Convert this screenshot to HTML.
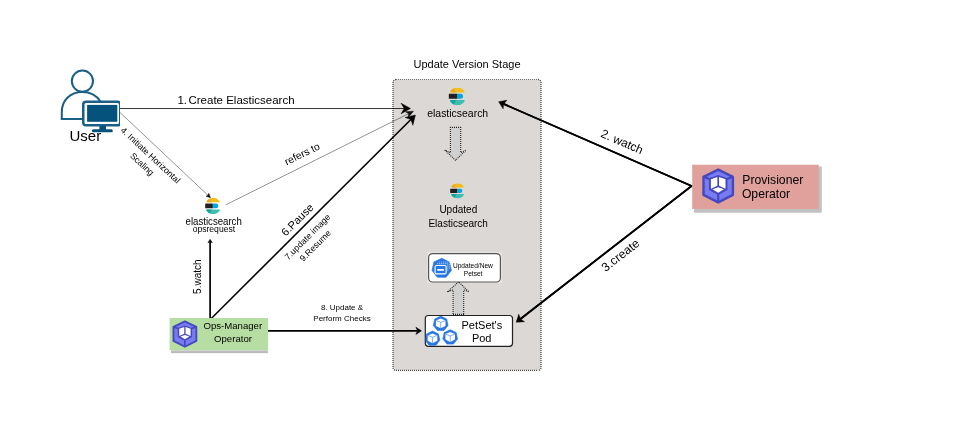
<!DOCTYPE html>
<html><head><meta charset="utf-8">
<style>
html,body{margin:0;padding:0;background:#fff;}
body{width:962px;height:423px;overflow:hidden;position:relative;font-family:"Liberation Sans",sans-serif;}
svg{position:absolute;left:0;top:0;will-change:transform;}
text{font-family:"Liberation Sans",sans-serif;fill:#000;}
</style></head><body>
<svg width="962" height="423" viewBox="0 0 962 423">
<defs>
  <clipPath id="escapT"><path d="M-7.2,-4.7 Q-7.5,-3.95 -6.5,-3.95 H6.5 Q7.5,-3.95 7.2,-4.7 C5.6,-7.6 2.8,-8.9 0,-8.9 C-2.8,-8.9 -5.6,-7.6 -7.2,-4.7 Z"/></clipPath>
  <clipPath id="escapB"><path d="M-7.3,4.5 Q-7.6,3.7 -6.6,3.7 H6.6 Q7.6,3.7 7.3,4.5 C5.6,7.5 2.8,8.9 0,8.9 C-2.8,8.9 -5.6,7.5 -7.3,4.5 Z"/></clipPath>
  <g id="eslogo">
    <g clip-path="url(#escapT)">
      <rect x="-9" y="-9" width="18" height="6" fill="#f3bd19"/>
      <polygon points="-9,-3 -9,-9 -4.5,-9 -1,-3.5" fill="#e3a92a"/>
    </g>
    <g clip-path="url(#escapB)">
      <rect x="-9" y="3" width="18" height="6" fill="#3ebeb0"/>
      <polygon points="-9,3 -1,3 -4,9 -9,9" fill="#12a598"/>
    </g>
    <rect x="-8.6" y="-2.6" width="8.4" height="5" rx="0.3" fill="#231f20"/>
    <path d="M-0.4,-2.6 h3.5 a2.5,2.5 0 0 1 0,5 h-3.5 z" fill="#07a5de"/>
  </g>
  <g id="cube"><g transform="scale(0.945)">
    <polygon points="0,-13.4 12.1,-7.5 12.1,7.3 0,13.5 -12.1,7.3 -12.1,-7.5" fill="#787bf2" stroke="#4649be" stroke-width="2" stroke-linejoin="round"/>
    <path d="M-12.1,-7.5 L-6.5,-5.6 M12.1,-7.5 L6.5,-5.6 M0,13.5 L0,6" fill="none" stroke="#4649be" stroke-width="1.8"/>
    <polygon points="0,-9 7.6,-6.3 7.6,3.2 0,7.4 -7.6,3.2 -7.6,-6.3" fill="#4649be"/>
    <polygon points="-6,-5.5 -0.7,-7.4 -0.7,-0.2 -6,2.2" fill="#fff"/>
    <polygon points="6,-5.5 0.7,-7.4 0.7,-0.2 6,2.2" fill="#fff"/>
    <polygon points="0,0.95 4.7,2.65 0,5.5 -4.7,2.65" fill="#fff"/>
  </g></g>
  <g id="pod1">
    <polygon points="0,-7.4 6,-4.5 7.4,1.9 3.3,7 -3.3,7 -7.4,1.9 -6,-4.5" fill="#2876e2" stroke="#2876e2" stroke-width="0.6" stroke-linejoin="round"/>
    <polygon points="0,-5 4.8,-3 4.8,2.4 0,4.8 -4.8,2.4 -4.8,-3" fill="#fff"/>
    <path d="M-4.8,-3 L0,-1.2 L4.8,-3 M0,-1.2 V4.8" stroke="#4a90e8" stroke-width="0.7" fill="none"/>
  </g>
  <clipPath id="monclip"><rect x="80" y="98" width="39.9" height="40"/></clipPath>
  <clipPath id="podclip"><rect x="425.8" y="316" width="86" height="29.8"/></clipPath>
</defs>

<!-- panel -->
<rect x="393" y="79.5" width="148" height="290.9" rx="3" fill="#dcd8d5"/>
<path d="M396,79.5 H538" fill="none" stroke="#4a4a4a" stroke-width="0.8" stroke-dasharray="1 1"/>
<path d="M396,370.4 H538" fill="none" stroke="#4a4a4a" stroke-width="1.2" stroke-dasharray="1 1"/>
<path d="M396,79.5 A3,3 0 0 0 393,82.5 V367.4 A3,3 0 0 0 396,370.4" fill="none" stroke="#4a4a4a" stroke-width="1.3" stroke-dasharray="1 1"/>
<path d="M538,79.5 A3,3 0 0 1 541,82.5 V367.4 A3,3 0 0 1 538,370.4" fill="none" stroke="#4a4a4a" stroke-width="1.3" stroke-dasharray="1 1"/>
<text x="467" y="67.8" font-size="11" text-anchor="middle" fill="#1a1a1a">Update Version Stage</text>

<!-- connectors -->
<line x1="119.5" y1="108.5" x2="404.3" y2="108.5" stroke="#000" stroke-width="0.78"/>
<line x1="119.3" y1="111.8" x2="207.88" y2="195.23" stroke="#111" stroke-width="0.45"/>
<line x1="225.8" y1="204.8" x2="408.58" y2="113.65" stroke="#111" stroke-width="0.45"/>
<line x1="210.1" y1="319" x2="210.1" y2="241.8" stroke="#000" stroke-width="1.7"/>
<line x1="210.8" y1="319" x2="410.87" y2="119.52" stroke="#000" stroke-width="1.6"/>
<line x1="268" y1="330.85" x2="417.5" y2="330.85" stroke="#000" stroke-width="1.7"/>
<line x1="691.6" y1="186" x2="503.56" y2="103.92" stroke="#000" stroke-width="1.75"/>
<line x1="691.6" y1="186" x2="520.39" y2="318.95" stroke="#000" stroke-width="1.75"/>
<polyline points="503.56,103.92 691.6,186 520.39,318.95" fill="none" stroke="#000" stroke-width="1.75" stroke-linejoin="miter"/>
<path d="M410.5,108.5 L401,113.8 L404.3,108.5 L401,103.2 Z" fill="#000" stroke="#000" stroke-width="0.5" stroke-linejoin="miter"/>
<path d="M210.5,197.7 L206.07,196.28 L207.88,195.23 L208.81,193.36 Z" fill="#111" stroke="#111" stroke-width="0.5" stroke-linejoin="miter"/>
<path d="M413.5,111.2 L408.22,117.41 L408.58,113.65 L405.36,111.68 Z" fill="#111" stroke="#111" stroke-width="0.5" stroke-linejoin="miter"/>
<path d="M210.1,239.3 L212.3,242.8 L210.1,241.8 L207.9,242.8 Z" fill="#000" stroke="#000" stroke-width="0.5" stroke-linejoin="miter"/>
<path d="M415.4,115 L412.91,125.25 L410.87,119.52 L405.14,117.46 Z" fill="#000" stroke="#000" stroke-width="0.5" stroke-linejoin="miter"/>
<path d="M421.5,330.85 L415.9,334.45 L417.5,330.85 L415.9,327.25 Z" fill="#000" stroke="#000" stroke-width="0.5" stroke-linejoin="miter"/>
<path d="M498.7,101.8 L506.9,100.25 L503.56,103.92 L503.14,108.87 Z" fill="#000" stroke="#000" stroke-width="0.5" stroke-linejoin="miter"/>
<path d="M516.2,322.2 L518.77,314.26 L520.39,318.95 L524.53,321.68 Z" fill="#000" stroke="#000" stroke-width="0.5" stroke-linejoin="miter"/>

<!-- labels -->
<text x="177.4" y="104.1" font-size="11.5" fill="#1a1a1a">1.<tspan dx="1.5">Create Elasticsearch</tspan></text>
<text transform="translate(148.4,157.4) rotate(43)" font-size="8.8" text-anchor="middle" fill="#1a1a1a"><tspan x="0" y="0">4. Initiate Horizontal</tspan><tspan x="0" y="12.2">Scaling</tspan></text>
<text transform="translate(303.7,157.1) rotate(-26)" font-size="10.3" text-anchor="middle" fill="#1a1a1a">refers to</text>
<text transform="translate(201.2,276.7) rotate(-90)" font-size="10" text-anchor="middle" fill="#1a1a1a">5.watch</text>
<text transform="translate(300.1,222.4) rotate(-45)" font-size="11" text-anchor="middle" fill="#1a1a1a">6.Pause</text>
<text transform="translate(309.6,239) rotate(-45)" font-size="8.8" text-anchor="middle" fill="#1a1a1a">7.update image</text>
<text transform="translate(317.4,247.7) rotate(-45)" font-size="8.8" text-anchor="middle" fill="#1a1a1a">9.Resume</text>
<text x="342" y="309.7" font-size="8" text-anchor="middle" fill="#1a1a1a">8. Update &amp;</text>
<text x="342" y="320.7" font-size="8" text-anchor="middle" fill="#1a1a1a">Perform Checks</text>
<text transform="translate(620.5,145.5) rotate(23.5)" font-size="12" text-anchor="middle" fill="#1a1a1a">2. watch</text>
<text transform="translate(623,258.5) rotate(-38)" font-size="12.3" text-anchor="middle" fill="#1a1a1a">3.create</text>

<!-- user icon -->
<g fill="none" stroke="#1b5f85" stroke-width="2">
  <path d="M61.8,119 V112 C61.8,100 70.5,92 82.4,92 C90,92 96.5,95.5 100.5,101.5"/>
  <line x1="60.8" y1="119" x2="84" y2="119"/>
  <circle cx="82.4" cy="81.1" r="10.6" fill="#fff"/>
</g>
<g clip-path="url(#monclip)">
  <rect x="83.25" y="101.75" width="37" height="23.6" rx="2.8" fill="#fff" stroke="#1b5f85" stroke-width="2.5"/>
</g>
<rect x="87.1" y="104.9" width="30.2" height="16.9" fill="#05537d"/>
<rect x="99.4" y="126" width="6.6" height="4" fill="#05537d"/>
<rect x="91.9" y="129.3" width="20.9" height="3" rx="1.5" fill="#05537d"/>
<text x="85.3" y="141.3" font-size="15" text-anchor="middle" fill="#444">User</text>

<!-- es opsrequest -->
<use href="#eslogo" transform="translate(213.1,206) scale(0.92)"/>
<text x="185.6" y="224.6" font-size="10.3" fill="#585858" textLength="56.2" lengthAdjust="spacingAndGlyphs">elasticsearch</text>
<text x="213.9" y="231.9" font-size="8.6" text-anchor="middle" fill="#222">opsrequest</text>

<!-- ops manager -->
<rect x="171" y="349" width="97" height="2.2" fill="#d2d2d2"/>
<rect x="171" y="351.1" width="97" height="2" fill="#bababa"/>
<rect x="169.6" y="318" width="98.4" height="32.1" fill="#b6dea2"/>
<use href="#cube" transform="translate(184.9,334)"/>
<text x="232.8" y="329.35" font-size="9.6" text-anchor="middle" fill="#1a1a1a">Ops-Manager</text>
<text x="233" y="341.75" font-size="9.6" text-anchor="middle" fill="#1a1a1a">Operator</text>

<!-- in-panel -->
<use href="#eslogo" transform="translate(457.4,96.4)"/>
<text x="427.2" y="116.7" font-size="11" fill="#585858" textLength="61" lengthAdjust="spacingAndGlyphs">elasticsearch</text>
<path d="M450.3,127 H460.7 V152.7 L466.1,150.1 L455.5,160.3 L444.8,150.1 L450.3,152.7 Z" fill="#d0d0d0"/>
<path d="M450,127.4 H461 M450.4,127 V153 M460.7,127 V153 M450.3,152.7 L444.8,150.1 L455.5,160.3 L466.1,150.1 L460.7,152.7" fill="none" stroke="#222" stroke-width="1.1" stroke-dasharray="1 1"/>
<use href="#eslogo" transform="translate(457.6,190.9) scale(0.86)"/>
<text x="458.3" y="213" font-size="10" text-anchor="middle" fill="#1a1a1a">Updated</text>
<text x="458.2" y="226.6" font-size="10" text-anchor="middle" fill="#1a1a1a">Elasticsearch</text>

<!-- Updated/New petset -->
<rect x="427.4" y="252.1" width="74.5" height="31" fill="#e9e6e4"/>
<rect x="428.6" y="253.6" width="71.8" height="28.4" rx="4" fill="#fff" stroke="#555" stroke-width="1.2"/>
<g transform="translate(441.7,268.1) scale(0.945)">
  <polygon points="0,-10.3 8.2,-6.4 10.2,2.5 4.6,9.6 -4.6,9.6 -10.2,2.5 -8.2,-6.4" fill="#2876e2" stroke="#2876e2" stroke-width="0.8" stroke-linejoin="round"/>
  <rect x="-7" y="-2.7" width="11.7" height="8.8" rx="1.5" fill="none" stroke="#fff" stroke-width="1.2"/>
  <rect x="-4.8" y="0.9" width="7.3" height="1.9" rx="0.5" fill="#fff"/>
  <path d="M-5,-4.6 h11.5 v7.5" fill="none" stroke="#fff" stroke-width="0.8" stroke-dasharray="1.3 0.9" opacity="0.9"/>
  <path d="M-3,-6.4 h11.2 v7.2" fill="none" stroke="#fff" stroke-width="0.7" stroke-dasharray="1.3 0.9" opacity="0.75"/>
</g>
<text x="472.9" y="268" font-size="6.6" text-anchor="middle" fill="#222">Updated/New</text>
<text x="473.1" y="275.5" font-size="6.6" text-anchor="middle" fill="#222">Petset</text>

<path d="M453.1,314.5 V289.9 L447.4,291.9 L458.6,281.8 L469,291.9 L463.8,289.9 V314.5 Z" fill="#d0d0d0"/>
<path d="M453.1,314 V290 M463.7,314 V290 M453,314.4 H464 M453.1,289.9 L447.4,291.9 L458.6,281.8 L469,291.9 L463.8,289.9" fill="none" stroke="#222" stroke-width="1.1" stroke-dasharray="1 1"/>

<!-- PetSet's pod -->
<rect x="425.3" y="315.5" width="87.2" height="30.8" rx="3" fill="#fff" stroke="#222" stroke-width="1.2"/>
<g clip-path="url(#podclip)">
  <use href="#pod1" transform="translate(440.7,323.5)"/>
  <use href="#pod1" transform="translate(432.5,338.4)"/>
  <use href="#pod1" transform="translate(450.2,337.1)"/>
</g>
<text x="481.85" y="328.6" font-size="11" text-anchor="middle" fill="#333">PetSet's</text>
<text x="481.7" y="341.8" font-size="11" text-anchor="middle" fill="#333">Pod</text>

<!-- provisioner -->
<rect x="694" y="166.5" width="127.8" height="46.2" rx="1" fill="#c0c1c0"/>
<rect x="692.2" y="164.7" width="126.5" height="44.3" fill="#e0a09b"/>
<use href="#cube" transform="translate(718.2,186) scale(1.286)"/>
<text x="742.3" y="183.8" font-size="12.2" fill="#231a1a">Provisioner</text>
<text x="741.9" y="197.6" font-size="12.2" fill="#231a1a">Operator</text>
</svg>
</body></html>
